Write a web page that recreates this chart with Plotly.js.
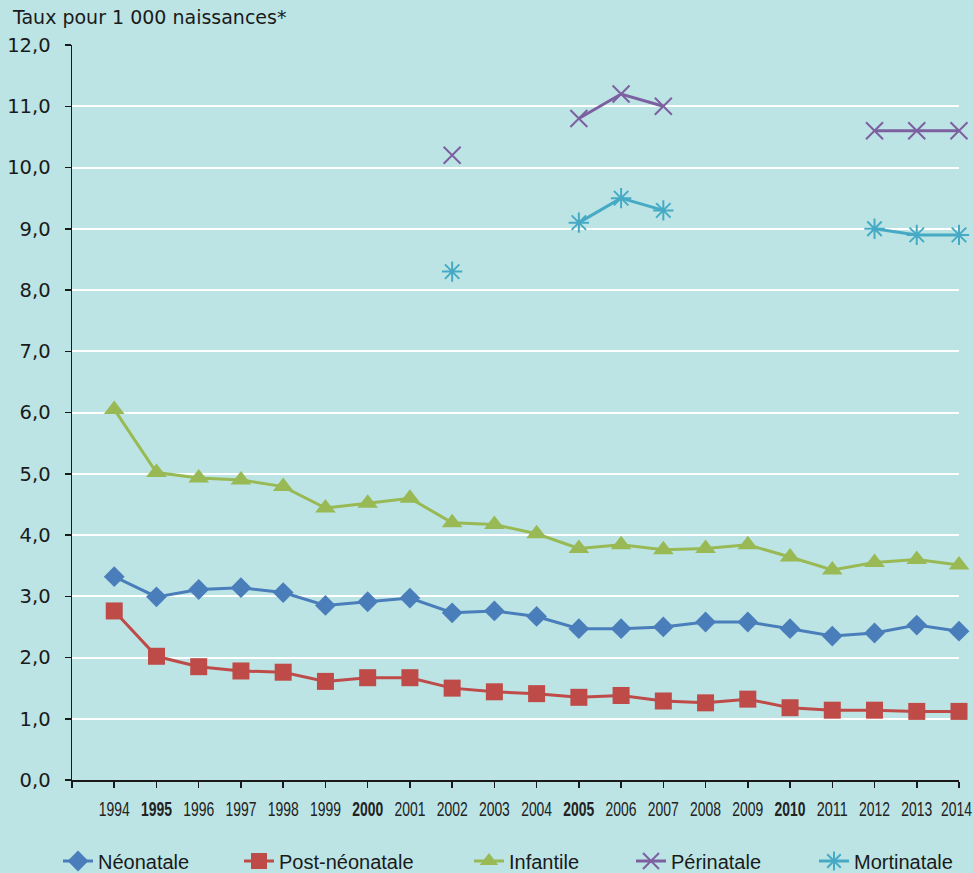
<!DOCTYPE html>
<html>
<head>
<meta charset="utf-8">
<script src="https://cdn.plot.ly/plotly-3.0.1.min.js"></script>
<style>html,body{margin:0;padding:0;background:#BCE4E5;overflow:hidden;}#chart{width:973px;height:873px;}</style>
</head>
<body>
<div id="chart"></div>
<script>
const years = [1994,1995,1996,1997,1998,1999,2000,2001,2002,2003,2004,2005,2006,2007,2008,2009,2010,2011,2012,2013,2014];
const yearLabels = ["1994","<b>1995</b>","1996","1997","1998","1999","<b>2000</b>","2001","2002","2003","2004","<b>2005</b>","2006","2007","2008","2009","<b>2010</b>","2011","2012","2013","2014"];
const neonatale = [3.32,2.99,3.11,3.14,3.06,2.85,2.91,2.97,2.73,2.76,2.67,2.47,2.47,2.50,2.58,2.58,2.47,2.35,2.40,2.53,2.43];
const postNeonatale = [2.76,2.02,1.85,1.78,1.76,1.61,1.67,1.67,1.50,1.44,1.41,1.35,1.38,1.29,1.26,1.32,1.18,1.14,1.14,1.12,1.12];
const infantile = [6.05,5.02,4.93,4.90,4.79,4.44,4.52,4.60,4.20,4.17,4.02,3.78,3.84,3.76,3.78,3.84,3.64,3.43,3.55,3.60,3.51];
const perinatale = [null,null,null,null,null,null,null,null,10.2,null,null,10.8,11.2,11.0,null,null,null,null,10.6,10.6,10.6];
const mortinatale = [null,null,null,null,null,null,null,null,8.3,null,null,9.1,9.5,9.3,null,null,null,null,9.0,8.9,8.9];
const yTicks = [0,1,2,3,4,5,6,7,8,9,10,11,12];
const yTickLabels = ["0,0","1,0","2,0","3,0","4,0","5,0","6,0","7,0","8,0","9,0","10,0","11,0","12,0"];
const titleText = "Taux pour 1 000 naissances*";

const bg = "#BCE4E5";
function tr(name, y, color, symbol, size, lw, legendId) {
  return {
    x: years, y: y, name: name, type: "scatter", mode: "lines+markers",
    connectgaps: false, cliponaxis: false, legend: legendId,
    line: {color: color, width: 3},
    marker: {symbol: symbol, size: size, color: color, line: {color: color, width: lw}}
  };
}
const data = [
  tr("Néonatale", neonatale, "#4A7EBB", "diamond", 16, 0, "legend"),
  tr("Post-néonatale", postNeonatale, "#BE4B48", "square", 17, 0, "legend2"),
  tr("Infantile", infantile, "#98B954", "triangle-up", 18, 0, "legend3"),
  tr("Périnatale", perinatale, "#7D60A0", "x-thin-open", 17, 2, "legend4"),
  tr("Mortinatale", mortinatale, "#46AAC5", "asterisk-open", 17, 2, "legend5")
];
function leg(px) {
  return {
    orientation: "h", xref: "container", yref: "container",
    x: px / 973, xanchor: "left", y: 1 - 861 / 873, yanchor: "middle",
    font: {family: "Liberation Sans, Arial, sans-serif", size: 20, color: "#1a1a1a"},
    bgcolor: "rgba(0,0,0,0)"
  };
}
const layout = {
  width: 973, height: 873,
  paper_bgcolor: bg, plot_bgcolor: bg,
  margin: {l: 72, r: 14, t: 45, b: 93, autoexpand: false},
  font: {family: "Liberation Sans, Arial, sans-serif", color: "#1a1a1a"},
  showlegend: true,
  legend: leg(58), legend2: leg(239), legend3: leg(469), legend4: leg(631), legend5: leg(814),
  xaxis: {
    range: [1993, 2014], tickmode: "array",
    tickvals: [1993].concat(years), ticktext: [""].concat(yearLabels),
    showgrid: false, zeroline: false, automargin: false,
    showline: true, linecolor: "#1a1a1a", linewidth: 1.5,
    ticks: "outside", ticklen: 6, tickcolor: "#1a1a1a", tickwidth: 1.5,
    tickangle: 0, ticklabelstandoff: 5, ticklabeloverflow: "allow",
    tickfont: {family: "Liberation Sans, Arial, sans-serif", size: 20, color: "#222"}
  },
  yaxis: {
    range: [0, 12], tickmode: "array", tickvals: yTicks, ticktext: yTickLabels,
    showgrid: true, gridcolor: "#FFFFFF", gridwidth: 2, zeroline: false, automargin: false,
    showline: true, linecolor: "#1a1a1a", linewidth: 1.5,
    ticks: "outside", ticklen: 6, tickcolor: "#1a1a1a", tickwidth: 1.5,
    ticklabelstandoff: 10,
    tickfont: {family: "DejaVu Sans, sans-serif", size: 19.5, color: "#1a1a1a"}
  },
  annotations: [{
    text: titleText, xref: "paper", yref: "paper",
    x: -62/887, xanchor: "left", y: 1 + 28/735, yanchor: "middle",
    showarrow: false, font: {family: "DejaVu Sans, sans-serif", size: 19, color: "#1a1a1a"}
  }]
};
Plotly.newPlot("chart", data, layout, {displayModeBar: false, staticPlot: true}).then(function (gd) {
  // condensed year labels, as in the reference (narrow typeface)
  const targetW = 31;
  gd.querySelectorAll(".xtick text").forEach(function (t) {
    if (!t.textContent.trim().length) return;
    const w = t.getBBox().width;
    if (!w) return;
    const s = targetW / w;
    const x = parseFloat(t.getAttribute("x") || "0");
    let tf = t.getAttribute("transform") || "";
    let shift = 0;
    const m = tf.match(/translate\(([-\d.]+)/);
    if (m && parseFloat(m[1]) + targetW / 2 > 972) shift = 972 - targetW / 2 - parseFloat(m[1]);
    t.setAttribute("transform", tf + " translate(" + shift + ",0) scale(" + s + ",1)");
    t.setAttribute("x", x / s);
  });
});
</script>
</body>
</html>
